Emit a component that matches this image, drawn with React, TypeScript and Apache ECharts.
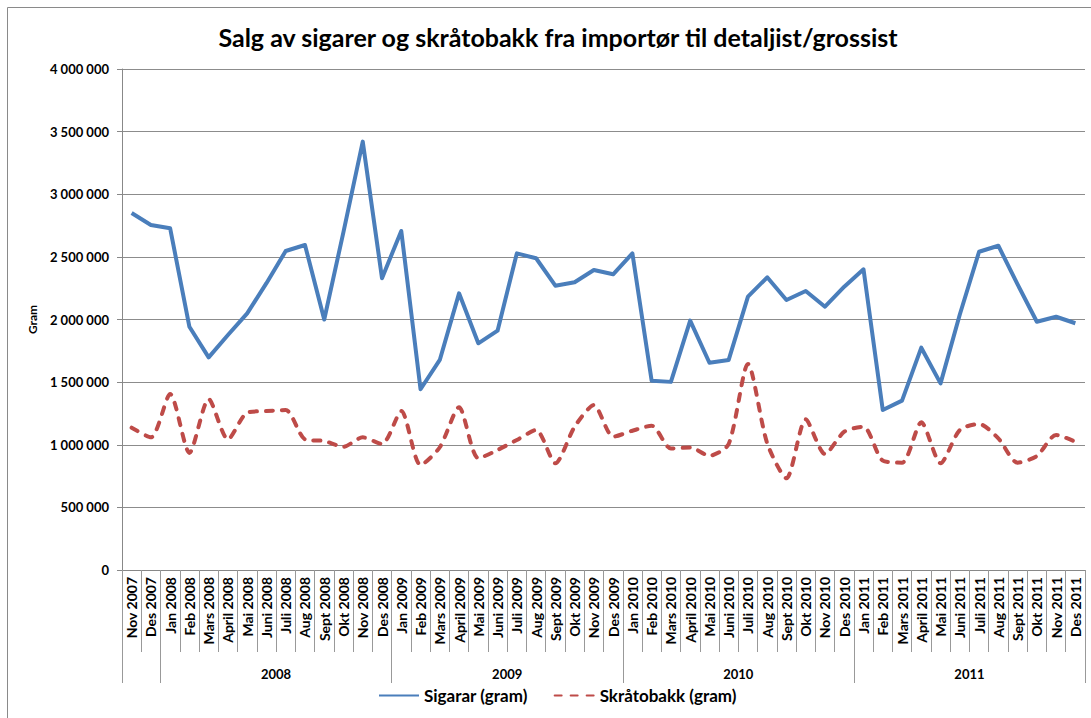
import React, { useEffect, useRef } from "react";
import * as echarts from "echarts";

const months: string[] = [
  "Nov 2007", "Des 2007",
  "Jan 2008", "Feb 2008", "Mars 2008", "April 2008", "Mai 2008", "Juni 2008", "Juli 2008", "Aug 2008", "Sept 2008", "Okt 2008", "Nov 2008", "Des 2008",
  "Jan 2009", "Feb 2009", "Mars 2009", "April 2009", "Mai 2009", "Juni 2009", "Juli 2009", "Aug 2009", "Sept 2009", "Okt 2009", "Nov 2009", "Des 2009",
  "Jan 2010", "Feb 2010", "Mars 2010", "April 2010", "Mai 2010", "Juni 2010", "Juli 2010", "Aug 2010", "Sept 2010", "Okt 2010", "Nov 2010", "Des 2010",
  "Jan 2011", "Feb 2011", "Mars 2011", "April 2011", "Mai 2011", "Juni 2011", "Juli 2011", "Aug 2011", "Sept 2011", "Okt 2011", "Nov 2011", "Des 2011",
];

const sigarar: number[] = [
  2850000, 2755000,
  2728000, 1942000, 1698000, 1876000, 2049000, 2290000, 2547000, 2595000, 2000000, 2700000, 3420000, 2330000,
  2707000, 1443000, 1677000, 2209000, 1810000, 1911000, 2528000, 2489000, 2270000, 2297000, 2395000, 2361000,
  2528000, 1511000, 1502000, 1991000, 1655000, 1677000, 2182000, 2337000, 2156000, 2228000, 2102000, 2262000,
  2401000, 1277000, 1352000, 1775000, 1490000, 2040000, 2541000, 2589000, 2280000, 1982000, 2022000, 1970000,
];

const skratobakk: number[] = [
  1136000, 1059000,
  1405000, 935000, 1365000, 1043000, 1256000, 1269000, 1277000, 1043000, 1030000, 984000, 1059000, 1006000,
  1269000, 838000, 980000, 1299000, 892000, 958000, 1038000, 1118000, 852000, 1144000, 1317000, 1064000,
  1112000, 1152000, 970000, 979000, 912000, 1006000, 1645000, 1011000, 732000, 1203000, 926000, 1104000,
  1144000, 873000, 857000, 1179000, 852000, 1118000, 1166000, 1051000, 857000, 910000, 1078000, 1024000,
];

const yearGroups: string[] = ["", "2008", "2009", "2010", "2011"];
const yearGroupSizes: number[] = [2, 12, 12, 12, 12];

const seriesNames: string[] = ["Sigarar (gram)", "Skråtobakk (gram)"];
const titleText = "Salg av sigarer og skråtobakk fra importør til detaljist/grossist";
const yAxisName = "Gram";

const FONT = "Lato";

export default function App() {
  const ref = useRef<HTMLDivElement>(null);

  useEffect(() => {
    if (!ref.current) return;
    const chart = echarts.init(ref.current, null, { renderer: "svg" });

    const boundaries: number[] = [0];
    yearGroupSizes.forEach((s) => boundaries.push(boundaries[boundaries.length - 1] + s));
    const centers: number[] = [];
    const centerLabels: Record<string, string> = {};
    yearGroups.forEach((g, i) => {
      if (g) {
        const c = (boundaries[i] + boundaries[i + 1]) / 2;
        centers.push(c);
        centerLabels[String(c)] = g;
      }
    });

    const fmt = (v: number) => String(Math.round(v)).replace(/\B(?=(\d{3})+(?!\d))/g, " ");

    chart.setOption({
      animation: false,
      backgroundColor: "#ffffff",
      title: {
        text: titleText,
        left: 553,
        textAlign: "center",
        top: 19,
        textStyle: { fontFamily: FONT, fontWeight: "bold", fontSize: 25, color: "#000" },
      },
      legend: {
        left: 373,
        top: 682,
        itemWidth: 40,
        itemHeight: 14,
        itemGap: 26,
        itemStyle: { opacity: 0, borderWidth: 0 },
        textStyle: { fontFamily: FONT, fontWeight: "bold", fontSize: 17, color: "#000" },
        data: seriesNames,
      },
      grid: { left: 122, right: 6, top: 69, bottom: 148, containLabel: false },
      xAxis: [
        {
          type: "category",
          data: months,
          boundaryGap: true,
          axisLine: { show: true, lineStyle: { color: "#888", width: 1 } },
          axisTick: { show: true, interval: 0, length: 82, lineStyle: { color: "#999" } },
          axisLabel: {
            interval: 0,
            rotate: 90,
            margin: 7,
            fontFamily: FONT,
            fontWeight: "bold",
            fontSize: 14,
            color: "#000",
          },
          splitLine: { show: false },
        },
        {
          type: "value",
          min: 0,
          max: 50,
          position: "bottom",
          axisLine: { show: false },
          splitLine: { show: false },
          axisTick: {
            show: true,
            customValues: boundaries,
            length: 113,
            lineStyle: { color: "#999" },
          },
          axisLabel: {
            show: true,
            customValues: centers,
            margin: 97,
            formatter: (v: number) => centerLabels[String(v)] || "",
            fontFamily: FONT,
            fontWeight: "bold",
            fontSize: 13,
            color: "#000",
          },
        },
      ],
      yAxis: {
        type: "value",
        min: 0,
        max: 4000000,
        interval: 500000,
        name: yAxisName,
        nameLocation: "middle",
        nameGap: 84,
        nameRotate: 90,
        nameTextStyle: { fontFamily: FONT, fontWeight: "bold", fontSize: 12, color: "#000" },
        axisLine: { show: true, lineStyle: { color: "#888", width: 1 } },
        axisTick: { show: true, length: 5, lineStyle: { color: "#888" } },
        axisLabel: {
          margin: 13,
          formatter: fmt,
          fontFamily: FONT,
          fontWeight: "bold",
          fontSize: 13,
          color: "#000",
        },
        splitLine: { show: true, lineStyle: { color: "#8c8c8c", width: 1 } },
      },
      series: [
        {
          name: seriesNames[0],
          type: "line",
          xAxisIndex: 0,
          data: sigarar,
          symbol: "none",
          smooth: false,
          lineStyle: { color: "#4A7EBB", width: 4, join: "round" },
          itemStyle: { color: "#4A7EBB" },
        },
        {
          name: seriesNames[1],
          type: "line",
          xAxisIndex: 0,
          data: skratobakk,
          symbol: "none",
          smooth: 0.25,
          lineStyle: { color: "#BE4B48", width: 4, type: [7, 9], cap: "round" },
          itemStyle: { color: "#BE4B48" },
        },
      ],
      graphic: [
        {
          type: "rect",
          shape: { x: 7.5, y: 7.5, width: 1100, height: 730 },
          style: { fill: "none", stroke: "#8a8a8a", lineWidth: 1 },
          silent: true,
          z: -10,
        },
      ],
    });

    return () => chart.dispose();
  }, []);

  return (
    <div
      ref={ref}
      style={{ position: "fixed", left: 0, top: 0, width: 1091, height: 718 }}
    />
  );
}
